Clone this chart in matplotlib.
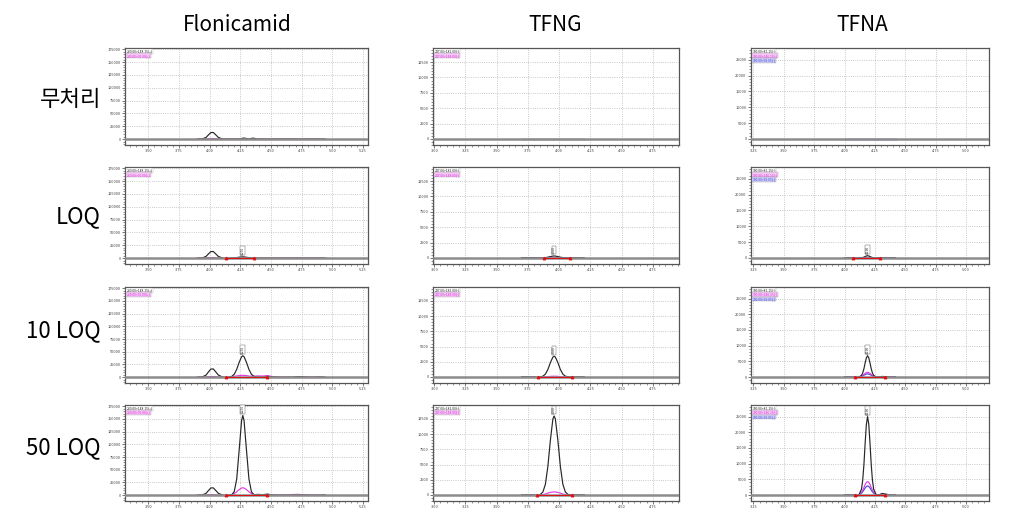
import matplotlib
matplotlib.use('agg')
import matplotlib.pyplot as plt
from matplotlib.ticker import FixedLocator, AutoMinorLocator, FormatStrFormatter

plt.rcParams['font.family'] = ['Noto Sans CJK KR', 'DejaVu Sans']

compounds = ['Flonicamid', 'TFNG', 'TFNA']
levels = ['무처리', 'LOQ', '10 LOQ', '50 LOQ']

# axis ticks per compound
flo_xticks = [3.50, 3.75, 4.00, 4.25, 4.50, 4.75, 5.00, 5.25]
flo_yticks = [0, 25000, 50000, 75000, 100000, 125000, 150000, 175000]
tfng_xticks = [3.00, 3.25, 3.50, 3.75, 4.00, 4.25, 4.50, 4.75]
tfng_yticks = [0, 2500, 5000, 7500, 10000, 12500]
tfna_xticks = [3.25, 3.50, 3.75, 4.00, 4.25, 4.50, 4.75, 5.00]
tfna_yticks = [0, 5000, 10000, 15000, 20000, 25000]

# MRM transitions shown in the small legend box
flo_mrm = ['230.00>148.15(+)', '230.00>96.00(+)']
tfng_mrm = ['247.00>182.00(-)', '247.00>148.00(-)']
tfna_mrm = ['190.00>81.15(-)', '190.00>146.15(-)', '190.00>98.05(-)']

# retention time labels of the quantified peak
flo_rt_label = '4.270'
tfng_rt_label = '3.960'
tfna_rt_label = '4.190'

# ---- Flonicamid traces (retention time, min) ----
flo_rt = [3.90, 3.94, 3.97, 3.99, 4.01, 4.03, 4.05, 4.07, 4.10, 4.13, 4.16, 4.18,
          4.20, 4.22, 4.24, 4.26, 4.27, 4.28, 4.30, 4.32, 4.34, 4.36, 4.39, 4.43,
          4.47, 4.52, 4.58, 4.64, 4.68, 4.72, 4.76, 4.80, 4.86, 4.90, 4.94]
flo_q_blank = [0, 400, 3200, 8200, 12800, 12800, 8200, 3400, 500, 0, 0, 0,
               0, 0, 0, 1200, 1800, 1900, 1200, 0, 1500, 1700, 0, 0,
               0, 0, 0, 0, 0, 0, 0, 0, 0, 0, 0]
flo_i_blank = [0, 0, 300, 800, 1200, 1100, 700, 300, 0, 0, 0, 0,
               0, 0, 0, 0, 0, 0, 0, 0, 0, 0, 0, 0,
               0, 0, 0, 0, 0, 0, 0, 0, 0, 0, 0]
flo_q_loq = [0, 400, 3200, 8200, 12800, 12800, 8200, 3400, 500, -1500, 0, 200,
             500, 1000, 1800, 2300, 2400, 2300, 1600, 900, 400, 200, 0, 0,
             0, 0, 0, 0, 0, 0, 0, 0, 0, 0, 0]
flo_i_loq = [0, 0, 300, 700, 1000, 1000, 600, 300, 0, 0, 0, 0,
             100, 200, 300, 300, 300, 300, 200, 100, 0, 0, 0, 0,
             0, 0, 0, 0, 0, 0, 0, 0, 0, 0, 0]
flo_q_10 = [0, 500, 4000, 10300, 16100, 16100, 10300, 4300, 700, -1200, 300, 1550,
            5700, 15200, 29000, 40300, 42000, 40300, 29000, 15200, 5700, 1550, 300, 200,
            1500, 500, 0, 0, 0, 1200, 800, 0, 0, 500, 0]
flo_i_10 = [0, 0, 300, 900, 1300, 1200, 800, 300, 0, 0, 500, 1000,
            1800, 2500, 3000, 3500, 3600, 3500, 3000, 2200, 1800, 2000, 2500, 2200,
            3000, 800, 0, 0, 0, 500, 0, 0, 0, 0, 0]
flo_q_50 = [0, 400, 3500, 9100, 14300, 14300, 9100, 3800, 600, -1500, 500, 900,
            6900, 31500, 88000, 147000, 157000, 147000, 88000, 31500, 6900, 900, 1500, 1000,
            2000, 300, 0, 0, 0, 500, 300, 0, 0, 0, 600]
flo_i_50 = [0, 0, 300, 800, 1200, 1100, 700, 300, 0, 0, 600, 1200,
            3100, 6600, 10900, 14000, 14500, 14000, 10900, 6600, 3100, 1200, 800, 600,
            500, 300, 200, 800, 1300, 1500, 1000, 200, 0, 0, 0]

# ---- TFNG traces ----
tfng_rt = [3.70, 3.76, 3.80, 3.83, 3.85, 3.87, 3.89, 3.91, 3.93, 3.95,
           3.96, 3.97, 3.99, 4.01, 4.03, 4.05, 4.07, 4.10, 4.14, 4.20]
tfng_q_blank = [0, 0, 0, 0, 0, 0, 0, 0, 0, 0, 0, 0, 0, 0, 0, 0, 0, 0, 0, 0]
tfng_i_blank = [0, 0, 0, 0, 0, 0, 0, 0, 0, 0, 0, 0, 0, 0, 0, 0, 0, 0, 0, 0]
tfng_q_loq = [0, 0, 0, -30, 0, 10, 40, 110, 210, 290, 300, 290, 210, 110, 40, 10, 0, 0, 0, 0]
tfng_i_loq = [0, 0, 0, 0, 0, 0, 0, 0, 10, 20, 20, 20, 10, 0, 0, 0, 0, 0, 0, 0]
tfng_q_10 = [0, 0, 0, -100, 20, 120, 460, 1220, 2350, 3260, 3400, 3260, 2350, 1220, 460, 120, 20, 0, 0, 0]
tfng_i_10 = [0, 0, 0, 0, 0, 10, 30, 60, 90, 110, 110, 110, 90, 60, 30, 10, 0, 0, 0, 0]
tfng_q_50 = [0, 0, 0, -300, 90, 480, 1750, 4700, 9000, 12500, 13000, 12500, 9000, 4700, 1750, 480, 90, 0, 0, 0]
tfng_i_50 = [0, 0, 0, 0, 20, 60, 150, 300, 420, 480, 500, 480, 420, 300, 150, 60, 20, 0, 0, 0]

# ---- TFNA traces ----
tfna_rt = [4.00, 4.05, 4.08, 4.10, 4.12, 4.14, 4.15, 4.16, 4.17, 4.18, 4.19,
           4.20, 4.21, 4.22, 4.23, 4.24, 4.26, 4.28, 4.31, 4.34, 4.38, 4.42]
tfna_q_blank = [0] * 22
tfna_i_blank = [0] * 22
tfna_b_blank = [0] * 22
tfna_q_loq = [0, 0, 0, -100, 5, 55, 130, 270, 460, 630, 700,
              630, 460, 270, 130, 55, 5, 0, 0, 0, 0, 0]
tfna_i_loq = [0, 0, 0, 0, 5, 30, 55, 85, 115, 140, 150,
              140, 115, 85, 55, 30, 5, 0, 0, 0, 0, 0]
tfna_b_loq = [0, 0, 0, 0, 3, 20, 35, 55, 75, 95, 100,
              95, 75, 55, 35, 20, 3, 0, 0, 0, 0, 0]
tfna_q_10 = [0, 0, 0, -200, 40, 520, 1290, 2650, 4490, 6120, 6800,
             6120, 4490, 2650, 1290, 520, 40, 0, 200, 100, 0, 0]
tfna_i_10 = [0, 0, 0, 0, 70, 300, 540, 840, 1170, 1410, 1500,
             1410, 1170, 840, 540, 300, 70, 20, 30, 20, 0, 0]
tfna_b_10 = [0, 0, 0, 0, 45, 200, 360, 560, 780, 940, 1000,
             940, 780, 560, 360, 200, 45, 10, 20, 10, 0, 0]
tfna_q_50 = [0, 0, 0, -500, 150, 1900, 4750, 9750, 16500, 22500, 25000,
             22500, 16500, 9750, 4750, 1900, 150, 0, 500, 300, 0, 0]
tfna_i_50 = [0, 0, 0, 0, 190, 860, 1550, 2400, 3350, 4040, 4300,
             4040, 3350, 2400, 1550, 860, 190, 50, 100, 50, 0, 0]
tfna_b_50 = [0, 0, 0, 0, 130, 580, 1040, 1610, 2240, 2710, 2900,
             2710, 2240, 1610, 1040, 580, 130, 30, 60, 30, 0, 0]

# integration start / end (None = no peak integrated)
flo_int = [None, (4.13, 4.36), (4.13, 4.47), (4.13, 4.47)]
tfng_int = [None, (3.88, 4.09), (3.83, 4.10), (3.82, 4.10)]
tfna_int = [None, (4.07, 4.29), (4.09, 4.33), (4.09, 4.33)]

# ---------------------------------------------------------------
W, H = 1009, 523
col_px = [(125, 368), (433, 679), (751, 989)]
row_px = [(48, 145), (167, 264), (287, 383), (405, 501)]
title_x = [237, 555, 862]

settings = [
    dict(rt=flo_rt, xt=flo_xticks, yt=flo_yticks, xlim=(3.31, 5.29), ylim=(-11500, 177500),
         mrm=flo_mrm, label=flo_rt_label, integ=flo_int,
         traces=[[flo_q_blank, flo_i_blank], [flo_q_loq, flo_i_loq],
                 [flo_q_10, flo_i_10], [flo_q_50, flo_i_50]]),
    dict(rt=tfng_rt, xt=tfng_xticks, yt=tfng_yticks, xlim=(2.99, 4.96), ylim=(-1000, 14800),
         mrm=tfng_mrm, label=tfng_rt_label, integ=tfng_int,
         traces=[[tfng_q_blank, tfng_i_blank], [tfng_q_loq, tfng_i_loq],
                 [tfng_q_10, tfng_i_10], [tfng_q_50, tfng_i_50]]),
    dict(rt=tfna_rt, xt=tfna_xticks, yt=tfna_yticks, xlim=(3.23, 5.19), ylim=(-1900, 28700),
         mrm=tfna_mrm, label=tfna_rt_label, integ=tfna_int,
         traces=[[tfna_q_blank, tfna_i_blank, tfna_b_blank], [tfna_q_loq, tfna_i_loq, tfna_b_loq],
                 [tfna_q_10, tfna_i_10, tfna_b_10], [tfna_q_50, tfna_i_50, tfna_b_50]]),
]
trace_colors = ['#262626', '#e03ce0', '#4848d8']
box_colors = ['white', '#f4c8f4', '#d0d0f8']

fig = plt.figure(figsize=(W / 100, H / 100), dpi=100)

for c, s in enumerate(settings):
    x0, x1 = col_px[c]
    for r in range(4):
        y0, y1 = row_px[r]
        ax = fig.add_axes([x0 / W, 1 - y1 / H, (x1 - x0) / W, (y1 - y0) / H])
        ax.set_xlim(*s['xlim'])
        ax.set_ylim(*s['ylim'])
        ax.xaxis.set_major_locator(FixedLocator(s['xt']))
        ax.yaxis.set_major_locator(FixedLocator(s['yt']))
        ax.xaxis.set_minor_locator(AutoMinorLocator(5))
        ax.yaxis.set_minor_locator(AutoMinorLocator(5))
        ax.xaxis.set_major_formatter(FormatStrFormatter('%.2f'))
        ax.yaxis.set_major_formatter(FormatStrFormatter('%d'))
        ax.tick_params(which='major', labelsize=2.8, length=2, width=0.5, pad=1.2,
                       colors='#404040')
        ax.tick_params(which='minor', length=1.2, width=0.4, colors='#404040')
        ax.grid(True, which='major', color='#b8b8b8', linestyle=':', linewidth=0.6)
        for sp in ax.spines.values():
            sp.set_color('#555555')
            sp.set_linewidth(0.9)

        # thick grey zero line drawn over the flat parts of the traces
        ax.axhline(0, color='#8c8c8c', lw=1.8, zorder=4.5)

        traces = s['traces'][r]
        for k in range(len(traces) - 1, -1, -1):
            ax.plot(s['rt'], traces[k], color=trace_colors[k], lw=0.85, zorder=3 + (k == 0))

        integ = s['integ'][r]
        if integ is not None:
            ax.plot(integ, [0, 0], color='#e01010', lw=0.7, marker='^', ms=1.8, zorder=5)
            q = traces[0]
            inside = [i for i, t in enumerate(s['rt']) if integ[0] <= t <= integ[1]]
            ia = max(inside, key=lambda i: q[i])
            span = s['ylim'][1] - s['ylim'][0]
            ax.text(s['rt'][ia], q[ia] + span * 0.02, s['label'], rotation=90, ha='center',
                    va='bottom', fontsize=2.4, color='#222222',
                    bbox=dict(boxstyle='square,pad=0.1', fc='white', ec='#555555', lw=0.3))

        for k, t in enumerate(s['mrm']):
            ax.text(0.006, 0.985 - k * 0.045, t, transform=ax.transAxes, ha='left', va='top',
                    fontsize=2.4, color=trace_colors[k],
                    bbox=dict(boxstyle='square,pad=0.1', fc=box_colors[k], ec='#888888', lw=0.2))

# column titles and row labels
for c, name in enumerate(compounds):
    fig.text(title_x[c] / W, 1 - 25 / H, name, ha='center', va='center', fontsize=15)

row_label_y = [99, 217, 331, 448]
for r, name in enumerate(levels):
    fig.text(101 / W, 1 - row_label_y[r] / H, name, ha='right', va='center', fontsize=16)

fig.savefig('out.png', dpi=100)
